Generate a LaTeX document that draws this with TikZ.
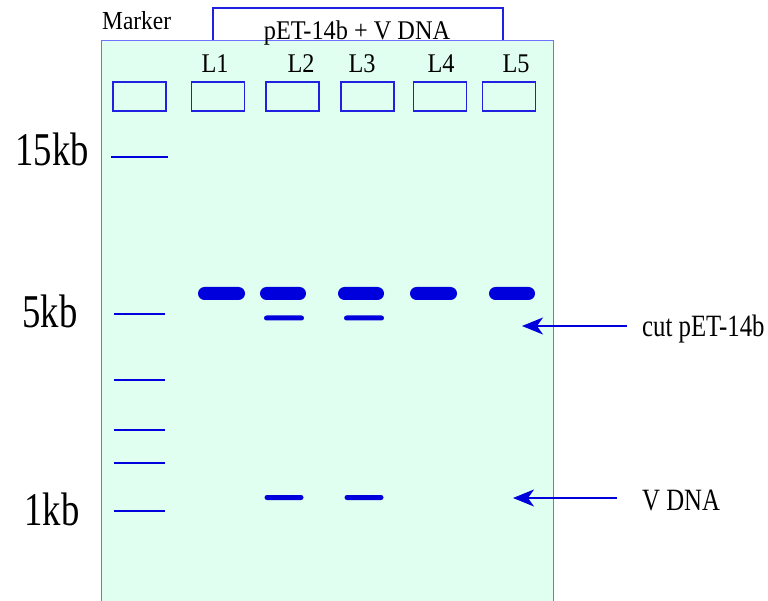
\documentclass[tikz,border=0pt]{standalone}
\usepackage{fontspec}
\setmainfont{Liberation Serif}
\newfontfamily\condsmall{Liberation Serif}[FakeStretch=0.9]
\newfontfamily\condmid{Liberation Serif}[FakeStretch=0.8]
\newfontfamily\condbig{Liberation Serif}[FakeStretch=0.78]
\usetikzlibrary{arrows.meta}
\definecolor{gelfill}{HTML}{E0FFF0}
\definecolor{gelline}{HTML}{7070FF}
\definecolor{bandblue}{HTML}{0000DD}
\definecolor{wellblue}{HTML}{2020E0}
\tikzset{
  well/.style={draw=wellblue, line width=1.5pt, minimum width=53pt, minimum height=29pt, inner sep=0pt},
  bigband/.style={fill=bandblue, rounded corners=6.5pt, minimum height=13pt, inner sep=0pt},
  thinband/.style={fill=bandblue, rounded corners=2.5pt, minimum height=5pt, inner sep=0pt},
  ladder/.style={fill=bandblue, minimum height=1.6pt, inner sep=0pt},
  smalltxt/.style={inner sep=0pt, font=\condsmall\fontsize{27}{30}\selectfont},
  sidetxt/.style={inner sep=0pt, font=\condmid\fontsize{31}{34}\selectfont},
  bigtxt/.style={inner sep=0pt, font=\condbig\fontsize{47}{50}\selectfont},
  pointer/.style={draw=bandblue, line width=1.5pt, -{Stealth[length=21pt,width=17pt,inset=6pt]}}
}
\begin{document}
\begin{tikzpicture}[x=1pt,y=-1pt]
\useasboundingbox (0,0) rectangle (768,601);
% bracket over sample lanes
\draw[wellblue, line width=1.3pt] (213,42) |- (503,8) -- (503,42);
% gel
\filldraw[fill=gelfill, draw=gelline, line width=1pt] (101,41) rectangle (553,603);
% texts at top
\node[smalltxt, anchor=base west, font=\condsmall\fontsize{26}{30}\selectfont] (marker) at (102,30) {Marker};
\node[smalltxt, anchor=base] (sample) at (357,40) {pET-14b + V DNA};
\node[smalltxt, anchor=base] (l1) at (215,73) {L1};
\node[smalltxt, anchor=base] (l2) at (301,73) {L2};
\node[smalltxt, anchor=base] (l3) at (362,73) {L3};
\node[smalltxt, anchor=base] (l4) at (441,73) {L4};
\node[smalltxt, anchor=base] (l5) at (516,73) {L5};
% wells
\node[well] (w0) at (139.5,96.5) {};
\node[well] (w1) at (218,96.5) {};
\node[well] (w2) at (292.5,96.5) {};
\node[well] (w3) at (367.5,96.5) {};
\node[well] (w4) at (440,96.5) {};
\node[well] (w5) at (509,96.5) {};
% ladder
\node[ladder, minimum width=57pt] (m15) at (139.5,157) {};
\node[ladder, minimum width=51pt] (m5) at (139.5,314) {};
\node[ladder, minimum width=51pt] (m3) at (139.5,380) {};
\node[ladder, minimum width=51pt] (m2) at (139.5,430) {};
\node[ladder, minimum width=51pt] (m15b) at (139.5,463) {};
\node[ladder, minimum width=51pt] (m1) at (139.5,511) {};
% size labels
\node[bigtxt, anchor=base] (t15) at (52,166) {15kb};
\node[bigtxt, anchor=base] (t5) at (50,328) {5kb};
\node[bigtxt, anchor=base] (t1) at (52,525) {1kb};
% main bands
\node[bigband, minimum width=47pt] (b1) at (221.5,293.5) {};
\node[bigband, minimum width=46pt] (b2) at (283,293.5) {};
\node[bigband, minimum width=46pt] (b3) at (361,293.5) {};
\node[bigband, minimum width=47pt] (b4) at (433.5,293.5) {};
\node[bigband, minimum width=46pt] (b5) at (512,293.5) {};
% cut vector bands
\node[thinband, minimum width=40pt] (c2) at (284,318) {};
\node[thinband, minimum width=40pt] (c3) at (364,318) {};
% insert bands
\node[thinband, minimum width=39pt] (v2) at (284,497.5) {};
\node[thinband, minimum width=39pt] (v3) at (364,497.5) {};
% pointers
\node[sidetxt, anchor=base west] (cutlbl) at (642,337) {cut pET-14b};
\node[sidetxt, anchor=base west] (vlbl) at (642,510) {V DNA};
\coordinate (tipA) at (522,326);
\coordinate (tipB) at (513,498);
\draw[pointer] ([xshift=-15pt]cutlbl.west |- tipA) -- (tipA);
\draw[pointer] ([xshift=-25pt]vlbl.west |- tipB) -- (tipB);
\end{tikzpicture}
\end{document}
